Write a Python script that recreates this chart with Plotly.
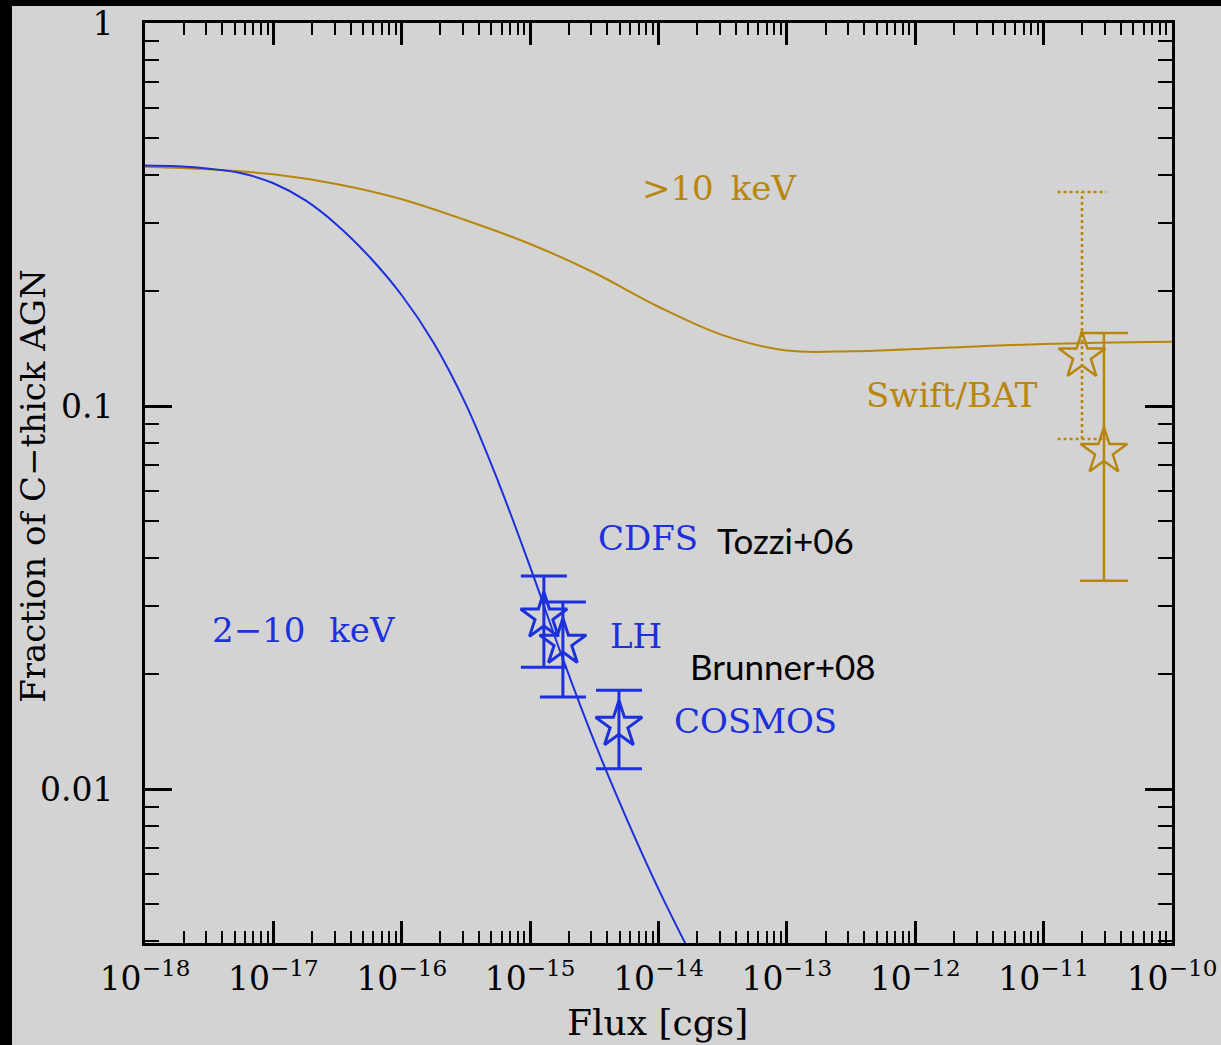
import plotly.graph_objects as go

# ---------------- data ----------------
# Model curves: fraction of Compton-thick AGN vs. limiting flux
hard_flux = [1e-18, 3.16e-18, 1e-17, 3.16e-17, 1e-16, 3.16e-16, 1e-15, 3.16e-15,
             1e-14, 3.16e-14, 1e-13, 3.16e-13, 1e-12, 1e-11, 1e-10]
hard_frac = [0.4217, 0.4150, 0.4027, 0.3793, 0.3467, 0.3055, 0.2649, 0.2228,
             0.1816, 0.1531, 0.1396, 0.1390, 0.1409, 0.1452, 0.1472]

soft_flux = [1e-18, 1.78e-18, 3.16e-18, 5.62e-18, 1e-17, 1.78e-17, 3.16e-17, 5.62e-17,
             1e-16, 1.78e-16, 3.16e-16, 5.62e-16, 1e-15, 1.78e-15, 3.16e-15, 5.62e-15,
             1e-14, 1.78e-14, 3.16e-14]
soft_frac = [0.4246, 0.4225, 0.4165, 0.4055, 0.3815, 0.3441, 0.2962, 0.2449,
             0.1946, 0.1459, 0.1010, 0.0637, 0.0380, 0.02209, 0.01331, 0.00840,
             0.00548, 0.00371, 0.00255]

# 2-10 keV survey measurements (CDFS, LH, COSMOS)
survey_names = ["CDFS", "LH", "COSMOS"]
survey_flux = [1.28e-15, 1.80e-15, 4.92e-15]
survey_frac = [0.0282, 0.0241, 0.0147]
survey_err_hi = [0.0078, 0.0067, 0.0034]
survey_err_lo = [0.0074, 0.0067, 0.0034]

# Swift/BAT measurements (>10 keV)
bat_flux = [1.99e-11, 2.95e-11]
bat_frac = [0.135, 0.076]
bat_err_hi = [0.227, 0.079]
bat_err_lo = [0.053, 0.041]

# axis ticks
x_tick_vals = [1e-18, 1e-17, 1e-16, 1e-15, 1e-14, 1e-13, 1e-12, 1e-11, 1e-10]
x_tick_text = ["10<sup>−18</sup>", "10<sup>−17</sup>", "10<sup>−16</sup>",
               "10<sup>−15</sup>", "10<sup>−14</sup>", "10<sup>−13</sup>",
               "10<sup>−12</sup>", "10<sup>−11</sup>", "10<sup>−10</sup>"]
y_tick_vals = [0.01, 0.1, 1]
y_tick_text = ["0.01", "0.1", "1"]

# ---------------- styles ----------------
BLUE = "#1c30dc"
GOLD = "#b8860b"
BG = "#d3d3d3"
SERIF = "DejaVu Serif"

fig = go.Figure()

fig.add_trace(go.Scatter(x=hard_flux, y=hard_frac, mode="lines",
                         line=dict(color=GOLD, width=2, shape="spline", smoothing=1.0),
                         hoverinfo="skip"))
fig.add_trace(go.Scatter(x=soft_flux, y=soft_frac, mode="lines",
                         line=dict(color=BLUE, width=2, shape="spline", smoothing=1.0),
                         hoverinfo="skip"))

fig.add_trace(go.Scatter(
    x=survey_flux, y=survey_frac, mode="markers", text=survey_names,
    marker=dict(symbol="star-open", size=35, color=BLUE, line=dict(width=3, color=BLUE)),
    error_y=dict(type="data", symmetric=False, array=survey_err_hi,
                 arrayminus=survey_err_lo, color=BLUE, thickness=3, width=23)))

# dotted error bar for the first BAT point
cap = 10 ** 0.19
bx, by = bat_flux[0], bat_frac[0]
top, bot = by + bat_err_hi[0], by - bat_err_lo[0]
fig.add_trace(go.Scatter(
    x=[bx, bx, None, bx / cap, bx * cap, None, bx / cap, bx * cap],
    y=[bot, top, None, top, top, None, bot, bot],
    mode="lines", line=dict(color=GOLD, width=2.5, dash="dot"), hoverinfo="skip"))
fig.add_trace(go.Scatter(
    x=[bat_flux[0]], y=[bat_frac[0]], mode="markers",
    marker=dict(symbol="star-open", size=35, color=GOLD, line=dict(width=2.5, color=GOLD))))

# solid error bar for the second BAT point
fig.add_trace(go.Scatter(
    x=[bat_flux[1]], y=[bat_frac[1]], mode="markers",
    marker=dict(symbol="star-open", size=35, color=GOLD, line=dict(width=2.5, color=GOLD)),
    error_y=dict(type="data", symmetric=False, array=[bat_err_hi[1]],
                 arrayminus=[bat_err_lo[1]], color=GOLD, thickness=2.5, width=24)))

# ---------------- labels ----------------
def label(text, x, y, color, size=34, family=SERIF, xanchor="left"):
    fig.add_annotation(text=text, x=x, y=y, xref="x", yref="y", showarrow=False,
                       xanchor=xanchor, yanchor="middle",
                       font=dict(family=family, size=size, color=color))

label(">10\u2002keV", -13.521, -0.431, GOLD, xanchor="center")
label("Swift/BAT", -11.714, -0.971, GOLD, xanchor="center")
label("2−10\u2002\u2009keV", -17.494, -1.585, BLUE)
label("CDFS", -14.487, -1.345, BLUE)
label("LH", -14.393, -1.601, BLUE)
label("COSMOS", -13.895, -1.822, BLUE)
label("Tozzi+06", -13.560, -1.350, "black", size=35, family="Lato")
label("Brunner+08", -13.770, -1.679, "black", size=35, family="Lato")

# axis titles
fig.add_annotation(text="Flux [cgs]", xref="paper", yref="paper", x=0.4995, y=-0.0859,
                   xanchor="center", yanchor="middle", showarrow=False,
                   font=dict(family=SERIF, size=36, color="black"))
fig.add_annotation(text="Fraction of C−thick AGN", xref="paper", yref="paper",
                   x=-0.109, y=0.497, textangle=-90, xanchor="center", yanchor="middle",
                   showarrow=False, font=dict(family=SERIF, size=34, color="black"))

# minor tick positions (2..9 within each decade)
x_minor = [k * 10.0 ** d for d in range(-18, -10) for k in range(2, 10)]
y_minor = [k * 10.0 ** d for d in range(-3, 0) for k in range(2, 10) if k * 10.0 ** d > 0.0039]

axis_common = dict(type="log", showline=True, linecolor="black", linewidth=3,
                   mirror="ticks", ticks="inside", tickcolor="black", tickwidth=2.5,
                   showgrid=False, zeroline=False, tickmode="array", automargin=False,
                   tickfont=dict(family=SERIF, size=33, color="black"))

fig.update_layout(
    width=1221, height=1045,
    margin=dict(l=145, r=49, t=23, b=102, autoexpand=False),
    paper_bgcolor=BG, plot_bgcolor=BG, showlegend=False,
    xaxis=dict(axis_common, range=[-18, -10], ticklen=22,
               tickvals=x_tick_vals, ticktext=x_tick_text, ticklabelstandoff=4,
               minor=dict(tickmode="array", tickvals=x_minor, ticks="inside",
                          ticklen=12, tickwidth=2, tickcolor="black", showgrid=False)),
    yaxis=dict(axis_common, range=[-2.402, 0], ticklen=27,
               tickvals=y_tick_vals, ticktext=y_tick_text, ticklabelstandoff=22,
               minor=dict(tickmode="array", tickvals=y_minor, ticks="inside",
                          ticklen=14, tickwidth=2, tickcolor="black", showgrid=False)),
)

# dark frame along the left and top edges of the page
fig.add_shape(type="rect", xref="paper", yref="paper", x0=-0.1412, x1=-0.1295,
              y0=-0.111, y1=1.026, fillcolor="black", line_width=0, layer="above")
fig.add_shape(type="rect", xref="paper", yref="paper", x0=-0.1412, x1=1.048,
              y0=1.0185, y1=1.026, fillcolor="black", line_width=0, layer="above")

fig.write_html("out.html")
